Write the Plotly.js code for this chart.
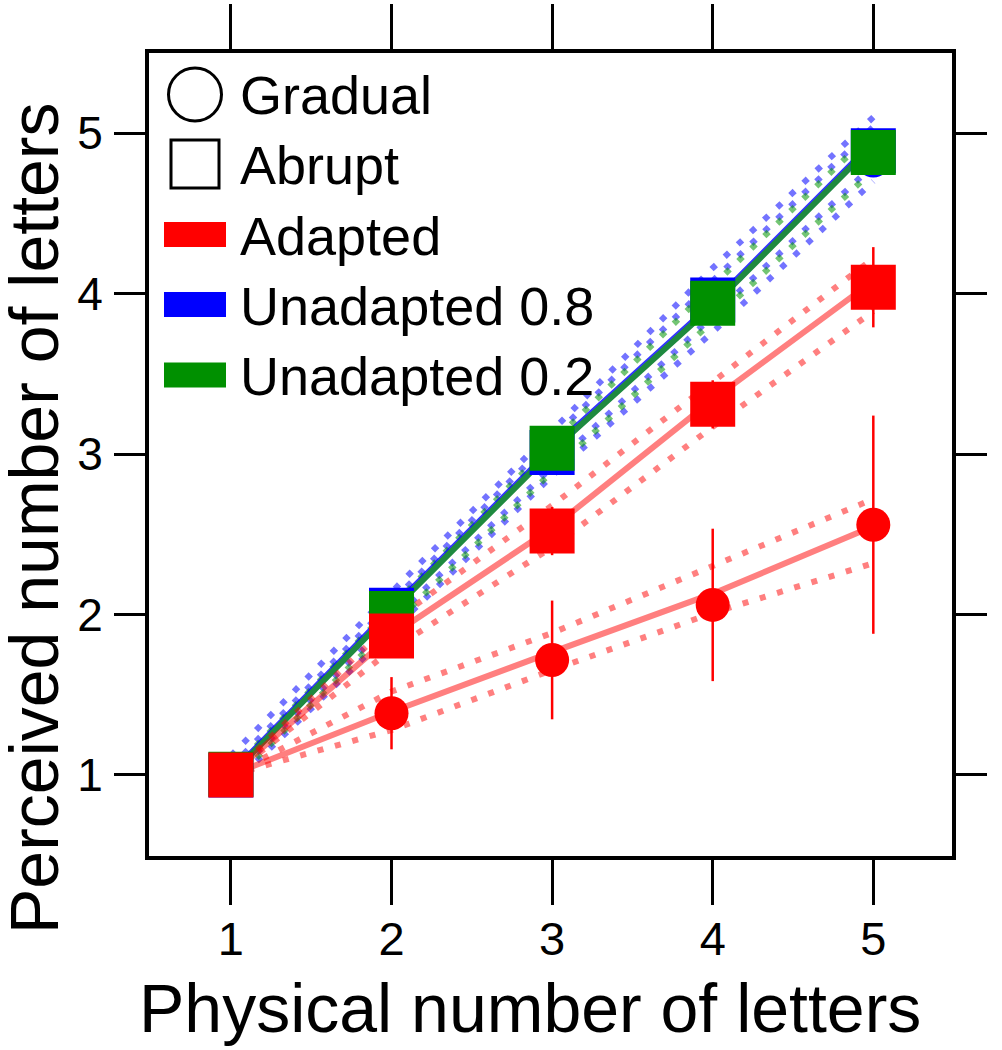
<!DOCTYPE html>
<html>
<head>
<meta charset="utf-8">
<script src="https://cdn.plot.ly/plotly-3.0.1.min.js"></script>
<style>
  html, body { margin: 0; padding: 0; background: #fff; }
  #chart { width: 1002px; height: 1050px; }
</style>
</head>
<body>
<div id="chart"></div>
<script>
const physical = [1, 2, 3, 4, 5];

// points (perceived number of letters)
const gradualAdapted = [1.0, 1.385, 1.717, 2.06, 2.56];
const gradualAdaptedErr = [0, 0.225, 0.37, 0.475, 0.68];
const abruptAdapted = [1.0, 1.866, 2.52, 3.31, 4.04];
const abruptAdaptedErr = [0.05, 0.1, 0.15, 0.15, 0.25];
const gradualUnad08 = [1.0, 2.0, 3.0, 3.95, 4.83];
const gradualUnad02 = [1.0, 2.0, 3.02, 3.95, 4.86];
const abruptUnad08 = [1.0, 2.027, 3.01, 3.96, 4.89];
const abruptUnad02 = [1.005, 2.006, 3.036, 3.94, 4.88];

// model fits and bands
const fitGradualAdapted = [1.0, 1.394, 1.766, 2.13, 2.55];
const bandGradualAdaptedUp = [1.0, 1.52, 1.885, 2.30, 2.72];
const bandGradualAdaptedLo = [1.0, 1.28, 1.654, 2.01, 2.32];
const fitAbruptAdapted = [1.0, 1.87, 2.54, 3.34, 4.08];
const bandAbruptAdaptedUp = [1.0, 1.95, 2.68, 3.45, 4.22];
const bandAbruptAdaptedLo = [1.0, 1.78, 2.42, 3.17, 3.89];
const fitUnad08 = [1.01, 2.035, 3.035, 3.94, 4.945];
const fitUnad02 = [1.0, 2.02, 3.02, 3.925, 4.93];
const bandUnad08OuterUp = [1.12, 2.14, 3.145, 4.16, 5.10];
const bandUnad08OuterLo = [0.93, 1.90, 2.865, 3.76, 4.70];
const bandUnad08InnerUp = [1.05, 2.08, 3.10, 4.08, 5.04];
const bandUnad08InnerLo = [0.98, 1.96, 2.92, 3.855, 4.80];
const bandUnad02Up = [1.02, 2.05, 3.07, 4.05, 5.01];
const bandUnad02Lo = [0.95, 1.93, 2.89, 3.825, 4.77];

const legendLabels = ['Gradual', 'Abrupt', 'Adapted', 'Unadapted 0.8', 'Unadapted 0.2'];

const RED = '#ff0000';
const BLUE = '#0000ff';
const GREEN = '#009000';
const FONT = 'Liberation Sans, Arial, Helvetica, sans-serif';
const DOTS = '6px,12px';

function line(y, color, dash, width) {
  return {
    x: physical, y, type: 'scatter', mode: 'lines', showlegend: false, hoverinfo: 'skip',
    line: { color, dash, width },
  };
}

function points(y, color, symbol, size, err) {
  const trace = {
    x: physical, y, type: 'scatter', mode: 'markers', showlegend: false,
    marker: { color, symbol, size, line: { width: 0 } },
  };
  if (err) {
    trace.error_y = { type: 'data', array: err, visible: true, color, thickness: 2.5, width: 0 };
  }
  return trace;
}

const traces = [
  line(bandUnad08OuterUp, 'rgba(0,0,255,0.55)', DOTS, 6),
  line(bandUnad08OuterLo, 'rgba(0,0,255,0.55)', DOTS, 6),
  line(bandUnad08InnerUp, 'rgba(0,0,255,0.55)', DOTS, 6),
  line(bandUnad08InnerLo, 'rgba(0,0,255,0.55)', DOTS, 6),
  line(bandUnad02Up, 'rgba(0,150,0,0.55)', DOTS, 6),
  line(bandUnad02Lo, 'rgba(0,150,0,0.55)', DOTS, 6),
  line(fitUnad08, 'rgba(0,0,255,0.8)', 'solid', 6),
  line(fitUnad02, '#1f8a3f', 'solid', 6),
  line(bandAbruptAdaptedUp, 'rgba(255,0,0,0.5)', DOTS, 6),
  line(bandAbruptAdaptedLo, 'rgba(255,0,0,0.5)', DOTS, 6),
  line(bandGradualAdaptedUp, 'rgba(255,0,0,0.5)', DOTS, 6),
  line(bandGradualAdaptedLo, 'rgba(255,0,0,0.5)', DOTS, 6),
  line(fitAbruptAdapted, 'rgba(255,0,0,0.5)', 'solid', 6),
  line(fitGradualAdapted, 'rgba(255,0,0,0.5)', 'solid', 6),
  points(gradualUnad08, BLUE, 'circle', 34),
  points(gradualUnad02, GREEN, 'circle', 34),
  points(abruptUnad08, BLUE, 'square', 45),
  points(abruptUnad02, GREEN, 'square', 45),
  points(abruptAdapted, RED, 'square', 45, abruptAdaptedErr),
  points(gradualAdapted, RED, 'circle', 34, gradualAdaptedErr),
];

// plot area in pixels: x 149..952, y 53..856
const L = 149, T = 53, W = 803, H = 803;
const px = (x) => (x - L) / W;
const py = (y) => (T + H - y) / H;

// legend keys, pixel positions
const keyRows = [94, 164, 234.5, 304.5, 375];
const shapes = [
  { type: 'circle', xref: 'paper', yref: 'paper', x0: px(168.5), x1: px(221.5), y0: py(121), y1: py(68),
    line: { color: '#000', width: 3 } },
  { type: 'rect', xref: 'paper', yref: 'paper', x0: px(171), x1: px(219), y0: py(188), y1: py(140),
    line: { color: '#000', width: 3 } },
];
[RED, BLUE, GREEN].forEach((c, i) => {
  const cy = keyRows[i + 2];
  shapes.push({ type: 'rect', xref: 'paper', yref: 'paper', x0: px(164), x1: px(226),
    y0: py(cy + 12.5), y1: py(cy - 12.5), fillcolor: c, line: { width: 0 } });
});

const annotations = legendLabels.map((t, i) => ({
  text: t, xref: 'paper', yref: 'paper', x: px(238), y: py(keyRows[i] + 1),
  xanchor: 'left', yanchor: 'middle', showarrow: false,
  font: { family: FONT, size: 54, color: '#000' },
}));
annotations.push({
  text: 'Physical number of letters', xref: 'paper', yref: 'paper', x: px(530), y: py(1008),
  xanchor: 'center', yanchor: 'middle', showarrow: false,
  font: { family: FONT, size: 68, color: '#000' },
});
annotations.push({
  text: 'Perceived number of letters', xref: 'paper', yref: 'paper', x: px(34), y: py(518),
  xanchor: 'center', yanchor: 'middle', textangle: -90, showarrow: false,
  font: { family: FONT, size: 68, color: '#000' },
});

const axisCommon = {
  showgrid: false, zeroline: false, showline: true, linecolor: '#000', linewidth: 4,
  mirror: 'ticks', ticks: 'outside', tickcolor: '#000', tickwidth: 3,
  tickvals: [1, 2, 3, 4, 5], fixedrange: true,
};

const layout = {
  width: 1002, height: 1050,
  margin: { l: L, r: 1002 - L - W, t: T, b: 1050 - T - H },
  paper_bgcolor: '#fff', plot_bgcolor: '#fff',
  font: { family: FONT, color: '#000' },
  showlegend: false,
  xaxis: { ...axisCommon, range: [0.49, 5.49], ticklen: 45, ticklabelstandoff: -6,
    tickfont: { family: FONT, size: 47, color: '#000' } },
  yaxis: { ...axisCommon, range: [0.495, 5.5], ticklen: 31, ticklabelstandoff: 2,
    tickfont: { family: FONT, size: 46, color: '#000' } },
  shapes, annotations,
};

Plotly.newPlot('chart', traces, layout, { displayModeBar: false, staticPlot: true });
</script>
</body>
</html>
